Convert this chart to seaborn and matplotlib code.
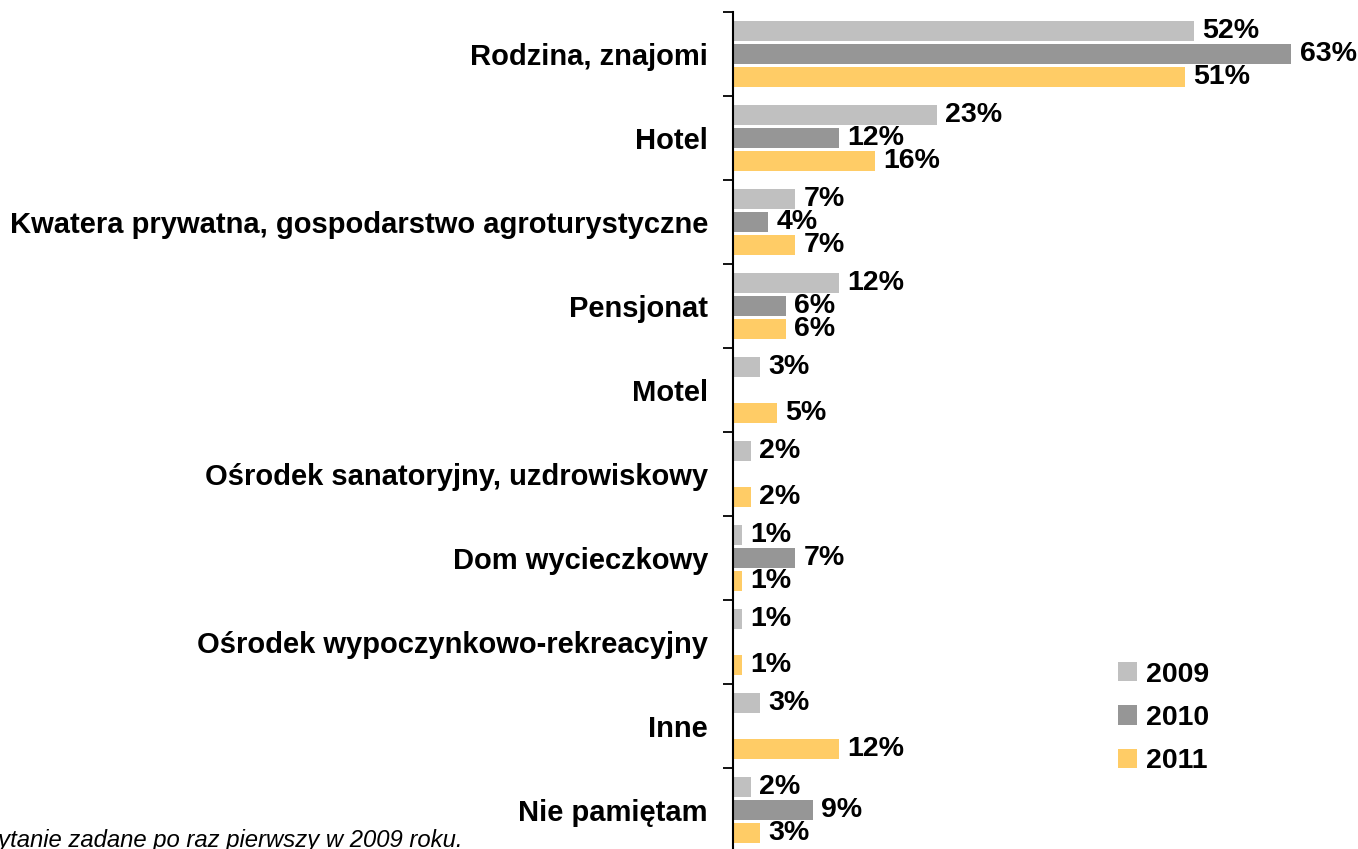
import numpy as np
import pandas as pd
import matplotlib
matplotlib.use("Agg")
import matplotlib.pyplot as plt
import seaborn as sns

plt.rcParams['font.family'] = ['Liberation Sans', 'DejaVu Sans']

categories = [
    "Rodzina, znajomi",
    "Hotel",
    "Kwatera prywatna, gospodarstwo agroturystyczne",
    "Pensjonat",
    "Motel",
    "Ośrodek sanatoryjny, uzdrowiskowy",
    "Dom wycieczkowy",
    "Ośrodek wypoczynkowo-rekreacyjny",
    "Inne",
    "Nie pamiętam",
]
years = ["2009", "2010", "2011"]
values_2009 = [52, 23, 7, 12, 3, 2, 1, 1, 3, 2]
values_2010 = [63, 12, 4, 6, np.nan, np.nan, 7, np.nan, np.nan, 9]
values_2011 = [51, 16, 7, 6, 5, 2, 1, 1, 12, 3]
footnote = "*Pytanie zadane po raz pierwszy w 2009 roku."

colors = {"2009": "#C0C0C0", "2010": "#969696", "2011": "#FFCC66"}

rows = []
for year, vals in zip(years, [values_2009, values_2010, values_2011]):
    for cat, v in zip(categories, vals):
        if not np.isnan(v):
            rows.append({"category": cat, "year": year, "value": v})
df = pd.DataFrame(rows)

W, H = 1358, 849
fig = plt.figure(figsize=(W / 100, H / 100), dpi=100)
ax = fig.add_axes([733 / W, -3 / H, (W - 733) / W, 840 / H])

sns.barplot(
    data=df, y="category", x="value", hue="year",
    order=categories, hue_order=years, palette=colors,
    orient="h", width=0.82, gap=0.1, saturation=1,
    linewidth=0, errorbar=None, ax=ax,
)

ax.set_xlim(0, (W - 733) / 8.86)
ax.set_ylim(len(categories) - 0.5, -0.5)

for c in ax.containers:
    ax.bar_label(c, fmt="{:.0f}%", padding=6, fontsize=20.5,
                 fontweight="bold", color="black")

ax.set_xlabel("")
ax.set_ylabel("")
ax.set_xticks([])
for s in ["top", "right", "bottom"]:
    ax.spines[s].set_visible(False)
ax.spines["left"].set_color("black")
ax.spines["left"].set_linewidth(1.5)

ax.set_yticks(np.arange(-0.5, len(categories) + 0.5, 1), minor=True)
ax.tick_params(axis="y", which="major", length=0, pad=18,
               labelsize=21)
ax.tick_params(axis="y", which="minor", length=7.5, width=1.3,
               color="black", direction="out")
for lbl in ax.get_yticklabels():
    lbl.set_fontweight("bold")

handles, labels = ax.get_legend_handles_labels()
ax.legend(
    handles, labels, loc="center left",
    bbox_to_anchor=(1118 / W, 1 - 718 / H), bbox_transform=fig.transFigure,
    frameon=False, prop={"size": 20.5, "weight": "bold"},
    handlelength=0.65, handleheight=0.65, handletextpad=0.35,
    labelspacing=0.6, borderpad=0, borderaxespad=0,
)

fig.text(-27 / W, 2 / H, footnote, fontsize=17.2, fontstyle="italic",
         ha="left", va="baseline")

fig.savefig("out.png", dpi=100)
